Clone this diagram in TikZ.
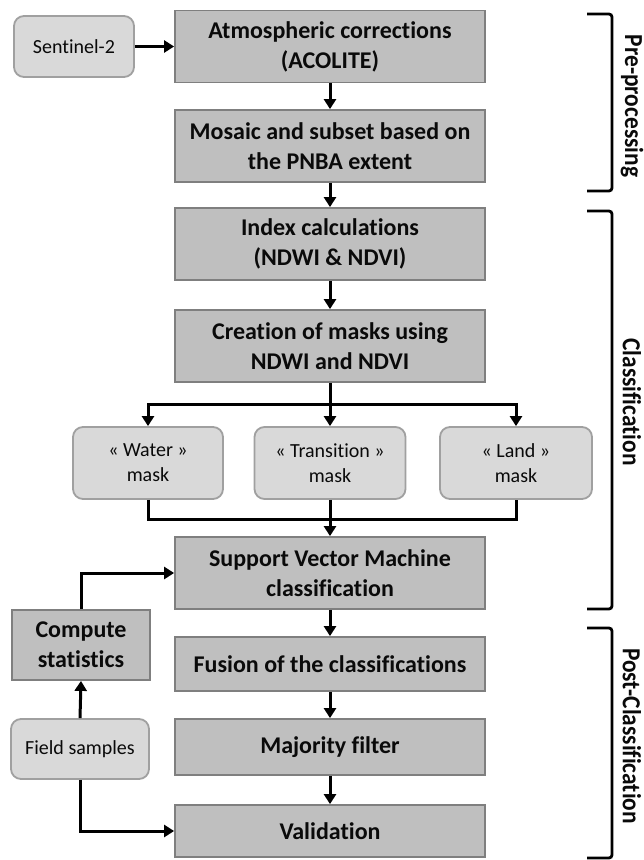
\documentclass[tikz,border=0pt]{standalone}
\usepackage{fontspec}
\setmainfont{Carlito}[Ligatures=NoCommon]
\usetikzlibrary{arrows.meta}
\definecolor{mainfill}{RGB}{191,191,191}
\definecolor{mainborder}{RGB}{127,127,127}
\definecolor{lightfill}{RGB}{217,217,217}
\definecolor{lightborder}{RGB}{160,160,160}
\definecolor{txt}{RGB}{10,10,10}
\tikzset{
  mainbox/.style={draw=mainborder, line width=1.8pt, fill=mainfill, minimum width=310pt, inner sep=0pt, align=center, text=txt, font=\fontsize{24}{30}\selectfont\bfseries},
  lightbox/.style={draw=lightborder, line width=1.8pt, fill=lightfill, rounded corners=10pt, inner sep=0pt, align=center, text=txt, font=\fontsize{20}{25}\selectfont},
  arr/.style={line width=3pt, -{Triangle[length=10pt,width=12pt]}},
  conn/.style={line width=3pt},
  brack/.style={line width=2.8pt, rounded corners=3pt},
  phase/.style={rotate=-90, inner sep=0pt, font=\fontsize{26}{28}\selectfont\bfseries, text=txt}
}
\begin{document}
\begin{tikzpicture}[x=1pt,y=-1pt]
\useasboundingbox (0,0) rectangle (644,860);
% main column
\node[mainbox, minimum height=72pt] (atm) at (330,46.5) {Atmospheric corrections\\(ACOLITE)};
\node[mainbox, minimum height=72pt] (mosaic) at (330,146) {Mosaic and subset based on\\the PNBA extent};
\node[mainbox, minimum height=72pt] (index) at (330,244) {Index calculations\\(NDWI \& NDVI)};
\node[mainbox, minimum height=72pt] (creation) at (330,346) {Creation of masks using\\NDWI and NDVI};
\node[mainbox, minimum height=72pt] (svm) at (330,573) {Support Vector Machine\\classification};
\node[mainbox, minimum height=54pt] (fusion) at (330,664) {Fusion of the classifications};
\node[mainbox, minimum height=56pt] (major) at (330,747) {Majority filter};
\node[mainbox, minimum height=52pt] (valid) at (330,831) {Validation};
% masks
\node[lightbox, minimum width=150pt, minimum height=72pt] (water) at (148,463) {« Water »\\mask};
\node[lightbox, minimum width=151pt, minimum height=72pt] (trans) at (330,463) {« Transition »\\mask};
\node[lightbox, minimum width=152pt, minimum height=72pt] (land) at (516,463) {« Land »\\mask};
% left side
\node[lightbox, minimum width=120pt, minimum height=61pt] (sent) at (74,46.5) {Sentinel-2};
\node[mainbox, minimum width=138pt, minimum height=70pt] (stats) at (81,645) {Compute\\statistics};
\node[lightbox, minimum width=138pt, minimum height=60pt] (field) at (80,749) {Field samples};
% connectors
\draw[arr] (sent) -- (atm);
\draw[arr] (atm) -- (mosaic);
\draw[arr] (mosaic) -- (index);
\draw[arr] (index) -- (creation);
\coordinate (split) at (330,404);
\draw[arr] (creation) -- (trans);
\draw[arr] (split) -| (water.north);
\draw[arr] (split) -| (land.north);
\coordinate (merge) at (330,519);
\draw[conn] (water.south) |- (merge) -| (land.south);
\draw[arr] (trans) -- (svm);
\draw[arr] (svm) -- (fusion);
\draw[arr] (fusion) -- (major);
\draw[arr] (major) -- (valid);
\coordinate (statsup) at (81,573);
\draw[arr] (stats.north) -- (statsup) -- (svm.west);
\draw[arr] (field.north) -- (stats.south);
\coordinate (fielddown) at (80,831);
\draw[arr] (field.south) -- (fielddown) -- (valid.west);
% brackets
\coordinate (b1a) at (587,14); \coordinate (b1b) at (612,14); \coordinate (b1c) at (612,191); \coordinate (b1d) at (587,191);
\draw[brack] (b1a) -- (b1b) -- (b1c) -- (b1d);
\coordinate (b2a) at (587,211); \coordinate (b2b) at (612,211); \coordinate (b2c) at (612,609); \coordinate (b2d) at (587,609);
\draw[brack] (b2a) -- (b2b) -- (b2c) -- (b2d);
\coordinate (b3a) at (587,628); \coordinate (b3b) at (612,628); \coordinate (b3c) at (612,858); \coordinate (b3d) at (587,858);
\draw[brack] (b3a) -- (b3b) -- (b3c) -- (b3d);
\node[phase] (pre) at (632,106) {\scalebox{0.9}[1]{Pre-processing}};
\node[phase] (cls) at (632,402) {\scalebox{0.9}[1]{Classification}};
\node[phase] (post) at (632,736) {\scalebox{0.9}[1]{Post-Classification}};
\end{tikzpicture}
\end{document}
